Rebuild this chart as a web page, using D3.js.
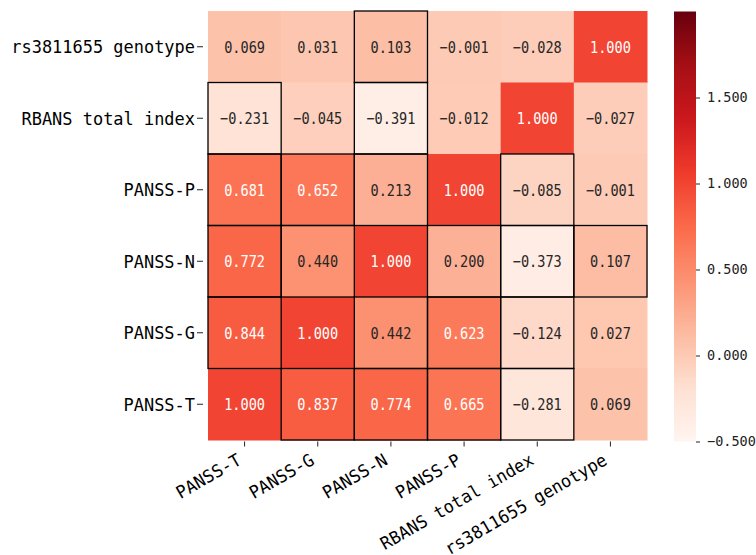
<!DOCTYPE html>
<html>
<head>
<meta charset="utf-8">
<script src="https://cdn.jsdelivr.net/npm/d3@7"></script>
<style>
  html, body { margin: 0; padding: 0; background: #fff; }
  svg text { font-family: "DejaVu Sans Mono", "Liberation Mono", monospace; }
</style>
</head>
<body>
<svg id="chart" width="756" height="555"></svg>
<script>
// ---- data ----
const rowLabels = ["rs3811655 genotype", "RBANS total index", "PANSS-P", "PANSS-N", "PANSS-G", "PANSS-T"];
const colLabels = ["PANSS-T", "PANSS-G", "PANSS-N", "PANSS-P", "RBANS total index", "rs3811655 genotype"];
const values = [
  [0.069, 0.031, 0.103, -0.001, -0.028, 1.000],
  [-0.231, -0.045, -0.391, -0.012, 1.000, -0.027],
  [0.681, 0.652, 0.213, 1.000, -0.085, -0.001],
  [0.772, 0.440, 1.000, 0.200, -0.373, 0.107],
  [0.844, 1.000, 0.442, 0.623, -0.124, 0.027],
  [1.000, 0.837, 0.774, 0.665, -0.281, 0.069]
];
const highlighted = [
  [0, 0, 1, 0, 0, 0],
  [1, 0, 1, 0, 0, 0],
  [1, 1, 1, 0, 1, 0],
  [1, 1, 0, 1, 1, 1],
  [1, 0, 1, 1, 1, 0],
  [0, 1, 1, 1, 1, 0]
];
const colorTicks = [-0.5, 0.0, 0.5, 1.0, 1.5];
const colorDomain = [-0.5, 2.0];
const redsStops = ["#fff5f0", "#fee0d2", "#fcbba1", "#fc9272", "#fb6a4a", "#ef3b2c", "#cb181d", "#a50f15", "#67000d"];

(function () {
// ---- layout ----
const svg = d3.select("#chart");
const gLeft = 208, gRight = 647, gTop = 11, gBottom = 440;
const cbX = 674, cbW = 22;

const x = d3.scaleBand().domain(colLabels).range([gLeft, gRight]).padding(0);
const y = d3.scaleBand().domain(rowLabels).range([gTop, gBottom]).padding(0);

const tScale = d3.scaleLinear().domain(colorDomain).range([0, 1]);
const stopScale = d3.scaleLinear()
  .domain(redsStops.map((_, i) => i / (redsStops.length - 1)))
  .range(redsStops)
  .interpolate(d3.interpolateRgb);
const color = v => stopScale(Math.max(0, Math.min(1, tScale(v))));

const cells = [];
values.forEach((row, i) => row.forEach((v, j) => cells.push({
  r: rowLabels[i], c: colLabels[j], v, hl: highlighted[i][j]
})));

// cells
svg.append("g").selectAll("rect").data(cells).join("rect")
  .attr("x", d => x(d.c))
  .attr("y", d => y(d.r))
  .attr("width", x.bandwidth() + 0.5)
  .attr("height", y.bandwidth() + 0.5)
  .attr("fill", d => color(d.v));

// luminance for text colour (seaborn style)
function lum(c) {
  const rgb = d3.rgb(c);
  const f = u => { u /= 255; return u <= 0.03928 ? u / 12.92 : Math.pow((u + 0.055) / 1.055, 2.4); };
  return 0.2126 * f(rgb.r) + 0.7152 * f(rgb.g) + 0.0722 * f(rgb.b);
}
const fmt = v => d3.format(".3f")(v).replace("-", "\u2212");

svg.append("g").selectAll("text").data(cells).join("text")
  .attr("transform", d => `translate(${x(d.c) + x.bandwidth() / 2},${y(d.r) + y.bandwidth() / 2}) scale(0.85,1)`)
  .attr("dy", "0.36em")
  .attr("text-anchor", "middle")
  .attr("font-size", 16)
  .attr("fill", d => lum(color(d.v)) > 0.408 ? "#262626" : "#ffffff")
  .text(d => fmt(d.v));

// highlight borders
svg.append("g").selectAll("rect").data(cells.filter(d => d.hl)).join("rect")
  .attr("x", d => x(d.c))
  .attr("y", d => y(d.r))
  .attr("width", x.bandwidth())
  .attr("height", y.bandwidth())
  .attr("fill", "none")
  .attr("stroke", "#000")
  .attr("stroke-width", 1.3);

// y axis
const yg = svg.append("g");
rowLabels.forEach(r => {
  const cy = y(r) + y.bandwidth() / 2;
  yg.append("line").attr("x1", 197).attr("x2", 203).attr("y1", cy).attr("y2", cy)
    .attr("stroke", "#222").attr("stroke-width", 1);
  yg.append("text").attr("transform", `translate(195,${cy}) scale(0.97,1)`).attr("dy", "0.36em")
    .attr("text-anchor", "end").attr("font-size", 17.5).attr("fill", "#000").text(r);
});

// x axis
const xg = svg.append("g");
const fsX = 17.5, asc = 0.76 * fsX, desc = 0.24 * fsX;
colLabels.forEach(c => {
  const cx = x(c) + x.bandwidth() / 2;
  xg.append("line").attr("x1", cx).attr("x2", cx).attr("y1", gBottom + 1.5).attr("y2", gBottom + 6.5)
    .attr("stroke", "#222").attr("stroke-width", 1);
  const labelTop = gBottom + 12;
  const ax = cx - 0.5 * desc, ay = labelTop + 0.866 * asc;
  xg.append("text").attr("transform", `translate(${ax},${ay}) rotate(-30) scale(0.97,1)`)
    .attr("text-anchor", "end").attr("font-size", fsX).attr("fill", "#000").text(c);
});

// colour bar
const cbY = d3.scaleLinear().domain(colorDomain).range([441.5, 11.5]);
const defs = svg.append("defs");
const grad = defs.append("linearGradient").attr("id", "cbgrad")
  .attr("x1", 0).attr("y1", 1).attr("x2", 0).attr("y2", 0);
d3.range(0, 1.0001, 0.02).forEach(t => {
  const v = colorDomain[0] + t * (colorDomain[1] - colorDomain[0]);
  grad.append("stop").attr("offset", t).attr("stop-color", color(v));
});
svg.append("rect").attr("x", cbX).attr("y", cbY(colorDomain[1]))
  .attr("width", cbW).attr("height", cbY(colorDomain[0]) - cbY(colorDomain[1]))
  .attr("fill", "url(#cbgrad)");
const cbAxis = d3.axisRight(cbY).tickValues(colorTicks).tickSize(4).tickPadding(7)
  .tickFormat(v => d3.format(".3f")(v).replace("-", "\u2212"));
const cbg = svg.append("g").attr("transform", `translate(${cbX + cbW},0)`).call(cbAxis);
cbg.select(".domain").remove();
cbg.selectAll("text").attr("font-size", 13.5).attr("fill", "#222")
  .style("font-family", '"DejaVu Sans Mono", monospace');
cbg.selectAll("line").attr("stroke", "#222");
})();
</script>
</body>
</html>
